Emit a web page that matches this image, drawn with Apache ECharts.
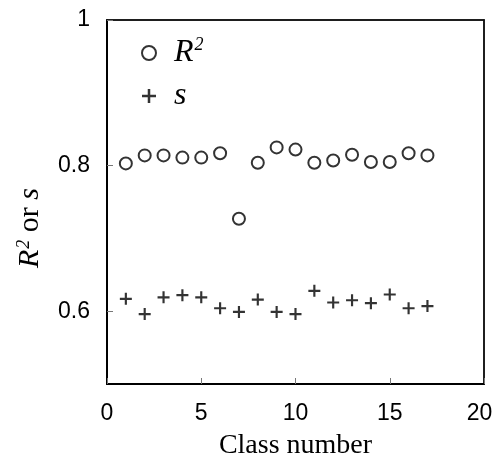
<!DOCTYPE html>
<html>
<head>
<meta charset="utf-8">
<script src="https://cdn.jsdelivr.net/npm/echarts@6/dist/echarts.min.js"></script>
<style>
html, body { margin: 0; padding: 0; background: #fff; }
#main { width: 494px; height: 462px; }
</style>
</head>
<body>
<div id="main"></div>
<script>
// class numbers and the two measures
var classNo = [1, 2, 3, 4, 5, 6, 7, 8, 9, 10, 11, 12, 13, 14, 15, 16, 17];
var r2Values = [0.803, 0.814, 0.814, 0.811, 0.811, 0.817, 0.727, 0.804, 0.825, 0.822, 0.804, 0.807, 0.815, 0.805, 0.805, 0.817, 0.814];
var sValues = [0.617, 0.596, 0.619, 0.622, 0.619, 0.604, 0.599, 0.616, 0.599, 0.596, 0.628, 0.612, 0.615, 0.611, 0.623, 0.604, 0.607];
var xTicks = [0, 5, 10, 15, 20];
var yTicks = [0.6, 0.8, 1];

var serif = '"Liberation Serif", "Times New Roman", serif';
var sans = '"Liberation Sans", Arial, sans-serif';
var plusPath = 'path://M4.1,0H5.9V4.1H10V5.9H5.9V10H4.1V5.9H0V4.1H4.1Z';

function pairs(xs, ys) {
    var out = [];
    for (var i = 0; i < xs.length; i++) out.push([xs[i], ys[i]]);
    return out;
}

var myChart = echarts.init(document.getElementById('main'));
myChart.setOption({
    animation: false,
    grid: {
        left: 107, top: 20, right: 10, bottom: 78,
        outerBoundsMode: 'none',
        show: true, borderColor: '#111', borderWidth: 1.5
    },
    legend: {
        orient: 'vertical',
        left: 141, top: 36,
        padding: 0,
        itemWidth: 14, itemHeight: 14,
        itemGap: 11,
        data: ['R²', 's'],
        formatter: function (name) {
            return name === 'R²' ? '{i|R}{sup|2}' : '{i|s}';
        },
        textStyle: {
            padding: [0, 0, 0, 13],
            rich: {
                i: { fontFamily: serif, fontStyle: 'italic', fontSize: 32, color: '#000', lineHeight: 34 },
                sup: { fontFamily: serif, fontStyle: 'italic', fontSize: 18, color: '#000', verticalAlign: 'top', lineHeight: 34, padding: [0, 0, 14, 1] }
            }
        }
    },
    xAxis: [{
        type: 'value',
        min: 0, max: 20, interval: 5,
        name: 'Class number',
        nameLocation: 'middle',
        nameGap: 48,
        nameTextStyle: { fontFamily: serif, fontSize: 28, color: '#000' },
        axisLine: { show: true, onZero: false, lineStyle: { color: '#000', width: 2 } },
        axisTick: { show: true, inside: true, length: 6, customValues: xTicks, lineStyle: { color: '#777', width: 1 } },
        axisLabel: {
            customValues: xTicks, margin: 18, fontFamily: sans, fontSize: 23, color: '#000',
            formatter: function (v) { return v === 20 ? '{m|20}' : String(v); },
            rich: { m: { fontFamily: sans, fontSize: 23, color: '#000', padding: [0, 9, 0, 0] } }
        },
        splitLine: { show: false }
    }, {
        type: 'value', position: 'top', min: 0, max: 20,
        axisLine: { show: true, onZero: false, lineStyle: { color: '#111', width: 1.5 } },
        axisTick: { show: false }, axisLabel: { show: false }, splitLine: { show: false }
    }],
    yAxis: [{
        type: 'value',
        min: 0.5, max: 1, interval: 0.1,
        name: '{i|R}{sup|2}{n| or }{i|s}',
        nameLocation: 'middle',
        nameGap: 62,
        nameRotate: 90,
        nameTextStyle: {
            padding: [0, 52, 0, 0],
            rich: {
                i: { fontFamily: serif, fontStyle: 'italic', fontSize: 30, color: '#000' },
                n: { fontFamily: serif, fontSize: 30, color: '#000' },
                sup: { fontFamily: serif, fontStyle: 'italic', fontSize: 18, color: '#000', verticalAlign: 'top', padding: [0, 0, 12, 1] }
            }
        },
        axisLine: { show: true, onZero: false, lineStyle: { color: '#000', width: 2 } },
        axisTick: { show: true, inside: true, length: 6, customValues: yTicks, lineStyle: { color: '#777', width: 1 } },
        axisLabel: { customValues: yTicks, margin: 17, fontFamily: sans, fontSize: 23, color: '#000' },
        splitLine: { show: false }
    }, {
        type: 'value', position: 'right', min: 0.5, max: 1,
        axisLine: { show: true, onZero: false, lineStyle: { color: '#111', width: 1.5 } },
        axisTick: { show: false }, axisLabel: { show: false }, splitLine: { show: false }
    }],
    series: [
        {
            name: 'R²',
            type: 'scatter',
            symbol: 'emptyCircle',
            symbolSize: 12,
            itemStyle: { color: '#000', borderColor: '#000', borderWidth: 2 },
            data: pairs(classNo, r2Values)
        },
        {
            name: 's',
            type: 'scatter',
            symbol: plusPath,
            symbolSize: 12,
            itemStyle: { color: '#000' },
            data: pairs(classNo, sValues)
        }
    ]
});
</script>
</body>
</html>
